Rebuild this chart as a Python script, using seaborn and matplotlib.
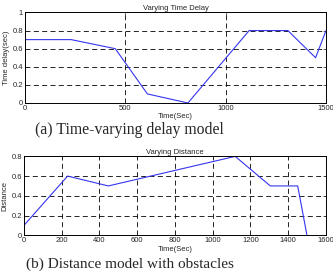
import numpy as np
import pandas as pd
import seaborn as sns
from matplotlib import pyplot as plt

# (a) time-varying delay
delay_t = [0, 230, 450, 610, 812, 1117, 1310, 1448, 1500]
delay_v = [0.7, 0.7, 0.6, 0.1, 0.0, 0.8, 0.8, 0.5, 0.8]

# (b) distance model
dist_t = [0, 231, 447, 1119, 1305, 1450, 1499]
dist_v = [0.1, 0.6, 0.5, 0.8, 0.5, 0.5, 0.0]

sns.set_style("white")
plt.rcParams['font.family'] = ['Liberation Sans', 'DejaVu Sans']

fig = plt.figure(figsize=(3.33, 2.71), dpi=100)
ax1 = fig.add_axes([0.075, 0.620, 0.904, 0.334])
ax2 = fig.add_axes([0.072, 0.132, 0.907, 0.291])

fs = 5.5


def style(ax, title, ylabel, xticks, yticks):
    ax.set_title(title, fontsize=fs, pad=2)
    ax.set_xlabel('Time(Sec)', fontsize=fs, labelpad=1)
    ax.set_ylabel(ylabel, fontsize=fs, labelpad=2)
    ax.set_xticks(xticks)
    ax.set_yticks(yticks)
    ax.set_yticklabels([('%g' % v) for v in yticks])
    ax.tick_params(direction='in', length=2, width=0.5, labelsize=fs, pad=1.5,
                   top=True, right=True, bottom=True, left=True)
    ax.grid(True, color='black', linestyle=(0, (6, 4)), linewidth=0.6)
    for s in ax.spines.values():
        s.set_color('black')
        s.set_linewidth(0.7)


df1 = pd.DataFrame({'t': delay_t, 'v': delay_v})
sns.lineplot(data=df1, x='t', y='v', ax=ax1, color='#3535f0', linewidth=0.8)
ax1.set_xlim(0, 1500)
ax1.set_ylim(0, 1)
style(ax1, 'Varying Time Delay', 'Time delay(sec)', [0, 500, 1000, 1500],
      [0, 0.2, 0.4, 0.6, 0.8, 1])

df2 = pd.DataFrame({'t': dist_t, 'v': dist_v})
sns.lineplot(data=df2, x='t', y='v', ax=ax2, color='#3535f0', linewidth=0.8)
ax2.set_xlim(0, 1600)
ax2.set_ylim(0, 0.8)
style(ax2, 'Varying Distance', 'Distance', list(range(0, 1700, 200)),
      [0, 0.2, 0.4, 0.6, 0.8])

fig.text(0.39, 0.519, '(a) Time-varying delay model', ha='center', va='center',
         fontsize=11.3, family=['Liberation Serif', 'DejaVu Serif'])
fig.text(0.39, 0.0, '(b) Distance model with obstacles', ha='center', va='bottom',
         fontsize=11, family=['Liberation Serif', 'DejaVu Serif'])

fig.savefig('out.png', dpi=100)
